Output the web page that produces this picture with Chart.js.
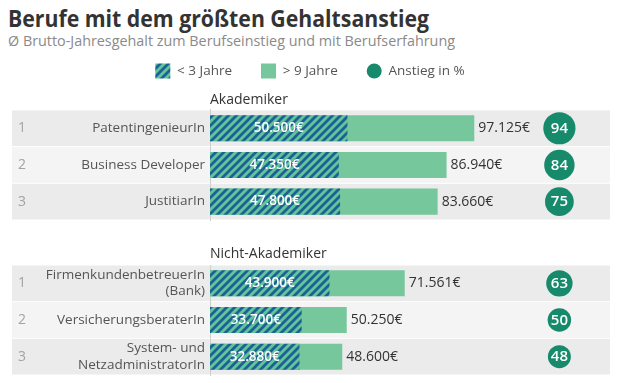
<!DOCTYPE html>
<html><head><meta charset="utf-8">
<script src="https://cdn.jsdelivr.net/npm/chart.js@4"></script>
<style>
html,body{margin:0;padding:0;background:#fff;width:621px;height:383px;overflow:hidden;font-family:'Open Sans',sans-serif}
#title{position:absolute;left:8px;top:6px;font-size:24px;line-height:24px;font-weight:700;color:#333;white-space:nowrap;transform-origin:0 0}
#subtitle{position:absolute;left:8px;top:33px;font-size:15px;line-height:15px;color:#8a8a8a;white-space:nowrap;transform-origin:0 0}
#wa{position:absolute;left:0;top:0;width:621px;height:221px}
#wb{position:absolute;left:0;top:222px;width:621px;height:161px}
</style></head><body>
<div id="title">Berufe mit dem größten Gehaltsanstieg</div>
<div id="subtitle">Ø Brutto-Jahresgehalt zum Berufseinstieg und mit Berufserfahrung</div>
<div id="wa"><canvas id="ca"></canvas></div>
<div id="wb"><canvas id="cb"></canvas></div>
<script>
// ---- data ----
const seriesNames = ['< 3 Jahre', '> 9 Jahre', 'Anstieg in %'];

const groupAkad = 'Akademiker';
const ranksAkad = ['1', '2', '3'];
const catsAkad = ['PatentingenieurIn', 'Business Developer', 'JustitiarIn'];
const juniorAkad = [50500, 47350, 47800];
const seniorAkad = [97125, 86940, 83660];
const increaseAkad = [94, 84, 75];

const groupNon = 'Nicht-Akademiker';
const ranksNon = ['1', '2', '3'];
const catsNon = [['FirmenkundenbetreuerIn', '(Bank)'], 'VersicherungsberaterIn', ['System- und', 'NetzadministratorIn']];
const juniorNon = [43900, 33700, 32880];
const seniorNon = [71561, 50250, 48600];
const increaseNon = [63, 50, 48];

// ---- layout / style constants ----
const X_MAX = 147000;          // value axis range
const CIRCLE_COL = 128400;     // value-axis position of the "Anstieg" column
const FONT = "'Open Sans', sans-serif";
const GREEN = '#77c79c';
const DARK_GREEN = '#178a6c';

function fitWidth(id, target) {
  const el = document.getElementById(id);
  const w = el.getBoundingClientRect().width;
  el.style.transform = 'scaleX(' + (target / w) + ')';
}
fitWidth('title', 421);
fitWidth('subtitle', 447);

function fmt(v) { return String(v).replace(/\B(?=(\d{3})+(?!\d))/g, '.') + '€'; }

function hatch() {
  const c = document.createElement('canvas'); c.width = 8; c.height = 8;
  const g = c.getContext('2d');
  g.fillStyle = '#62c39f'; g.fillRect(0, 0, 8, 8);
  g.strokeStyle = '#1d6190'; g.lineWidth = 2.7;
  g.beginPath();
  g.moveTo(-2, 10); g.lineTo(10, -2);
  g.moveTo(-2, 2); g.lineTo(2, -2);
  g.moveTo(6, 10); g.lineTo(10, 6);
  g.stroke();
  return g.createPattern(c, 'repeat');
}
const HATCH = hatch();

Chart.defaults.font.family = FONT;
Chart.defaults.animation = false;

const rowDeco = {
  id: 'rowDeco',
  beforeDraw(chart, args, opts) {
    const y = chart.scales.y, ctx = chart.ctx;
    const n = y.getLabels().length;
    const pitch = y.getPixelForValue(1) - y.getPixelForValue(0);
    ctx.save();
    for (let i = 0; i < n; i++) {
      const yc = y.getPixelForValue(i);
      ctx.fillStyle = i % 2 === 0 ? '#ebebeb' : '#f4f4f4';
      ctx.fillRect(12, yc - pitch / 2 + 0.5, 598, pitch - 1);
    }
    ctx.restore();
  },
  afterDatasetsDraw(chart, args, opts) {
    const ctx = chart.ctx, y = chart.scales.y;
    ctx.save();
    ctx.textBaseline = 'middle';
    ctx.font = '14px ' + FONT; ctx.fillStyle = '#a3a3a3'; ctx.textAlign = 'center';
    opts.ranks.forEach((r, i) => ctx.fillText(r, 22, y.getPixelForValue(i)));
    const m0 = chart.getDatasetMeta(0);
    ctx.font = '600 13.5px ' + FONT; ctx.fillStyle = '#fff';
    m0.data.forEach((el, i) => {
      ctx.fillText(fmt(chart.data.datasets[0].data[i]), (el.x + el.base) / 2, el.y);
    });
    const m1 = chart.getDatasetMeta(1);
    ctx.font = '14px ' + FONT; ctx.fillStyle = '#333'; ctx.textAlign = 'left';
    m1.data.forEach((el, i) => {
      ctx.fillText(fmt(chart.data.datasets[1].data[i]), el.x + 4, el.y);
    });
    const m2 = chart.getDatasetMeta(2);
    ctx.font = '600 15px ' + FONT; ctx.fillStyle = '#fff'; ctx.textAlign = 'center';
    m2.data.forEach((el, i) => {
      ctx.fillText(String(chart.data.datasets[2].data[i].v), el.x, el.y + 0.5);
    });
    ctx.restore();
  }
};

function makeChart(id, group, ranks, cats, junior, senior, inc, withLegend, pad, xTitlePad) {
  return new Chart(document.getElementById(id), {
    data: {
      labels: cats,
      datasets: [
        { type: 'bar', label: seriesNames[0], data: junior, backgroundColor: HATCH, grouped: false,
          barPercentage: 0.71, categoryPercentage: 1, borderWidth: 0 },
        { type: 'bar', label: seriesNames[1], data: senior, backgroundColor: GREEN, grouped: false,
          barPercentage: 0.71, categoryPercentage: 1, borderWidth: 0 },
        { type: 'bubble', label: seriesNames[2],
          data: inc.map((v, i) => ({ x: CIRCLE_COL, y: i, v: v })),
          backgroundColor: DARK_GREEN, borderWidth: 0,
          radius: c => 1.66 * Math.sqrt(c.raw.v) }
      ]
    },
    options: {
      indexAxis: 'y',
      responsive: true,
      maintainAspectRatio: false,
      events: [],
      layout: { autoPadding: false, padding: { left: 10, right: 11, top: pad.top, bottom: pad.bottom } },
      scales: {
        x: {
          type: 'linear', position: 'top', min: 0, max: X_MAX,
          ticks: { display: false }, grid: { display: false, drawTicks: false }, border: { display: false },
          title: { display: true, text: group, align: 'start', color: '#333',
                   font: { size: 14 }, padding: xTitlePad },
          afterFit: s => { s.paddingLeft = 0; s.paddingRight = 0; }
        },
        y: {
          type: 'category', position: 'left',
          grid: { display: false, drawTicks: false },
          border: { display: true, color: '#cfcfcf', width: 1 },
          ticks: { color: '#555', font: { size: 13.5 }, padding: 5, autoSkip: false },
          afterFit: s => { s.width = 200; s.paddingTop = 0; s.paddingBottom = 0; }
        }
      },
      plugins: {
        tooltip: { enabled: false },
        legend: {
          display: withLegend, position: 'top', align: 'center',
          labels: {
            boxWidth: 15, boxHeight: 15, padding: 29, color: '#555', font: { size: 13.5 },
            generateLabels(chart) {
              const items = Chart.defaults.plugins.legend.labels.generateLabels(chart);
              items.forEach((it, i) => { it.borderRadius = i === 2 ? 7.5 : 0; it.lineWidth = 0; });
              return items;
            }
          }
        },
        rowDeco: { ranks: ranks }
      }
    },
    plugins: [rowDeco]
  });
}

makeChart('ca', groupAkad, ranksAkad, catsAkad, juniorAkad, seniorAkad, increaseAkad, true,
  { top: 34.5, bottom: 1 }, { top: 3, bottom: 1.6 });
makeChart('cb', groupNon, ranksNon, catsNon, juniorNon, seniorNon, increaseNon, false,
  { top: 19.6, bottom: 8 }, { top: 4, bottom: 2.6 });
</script>
</body></html>
